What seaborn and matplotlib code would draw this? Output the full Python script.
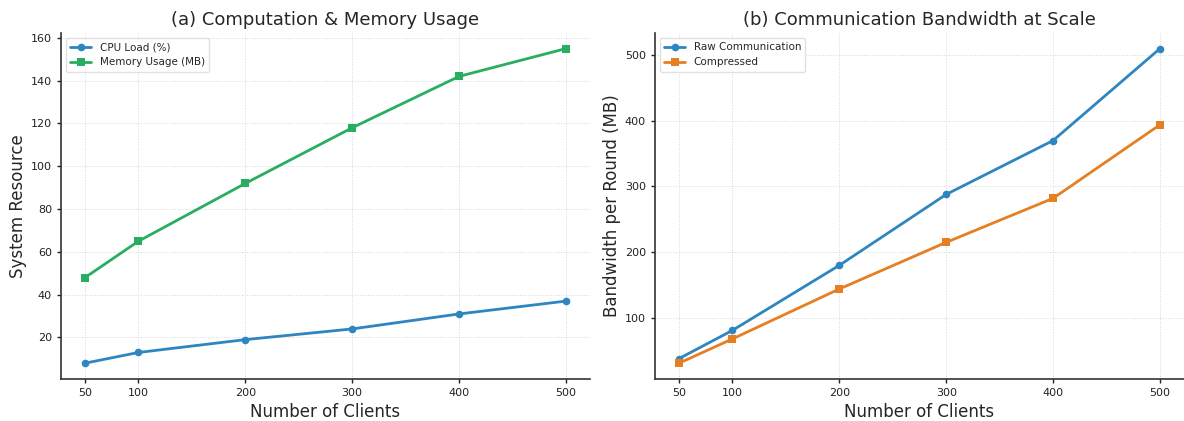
import matplotlib
matplotlib.use("Agg")
import matplotlib.pyplot as plt
import seaborn as sns
import pandas as pd

clients = [50, 100, 200, 300, 400, 500]
cpu_load = [8, 13, 19, 24, 31, 37]
memory_usage = [48, 65, 92, 118, 142, 155]
raw_comm = [38, 81, 180, 288, 370, 510]
compressed = [31, 68, 144, 215, 282, 394]

sns.set_theme(style="ticks")
plt.rcParams['font.family'] = ['DejaVu Sans']

blue = "#2E86C1"
green = "#27AE60"
orange = "#E67E22"

fig, axes = plt.subplots(1, 2, figsize=(11.84, 4.21), dpi=100)

df_a = pd.DataFrame({"clients": clients * 2,
                     "value": cpu_load + memory_usage,
                     "series": ["CPU Load (%)"] * 6 + ["Memory Usage (MB)"] * 6})
df_b = pd.DataFrame({"clients": clients * 2,
                     "value": raw_comm + compressed,
                     "series": ["Raw Communication"] * 6 + ["Compressed"] * 6})

def draw(ax, df, colors, title, ylabel):
    sns.lineplot(data=df, x="clients", y="value", hue="series", style="series",
                 markers=["o", "s"], dashes=False, palette=colors, linewidth=2,
                 markersize=5.5, markeredgewidth=0, ax=ax)
    ax.set_title(title, fontsize=13)
    ax.set_xlabel("Number of Clients", fontsize=12)
    ax.set_ylabel(ylabel, fontsize=12, labelpad=3)
    ax.set_xticks(clients)
    ax.tick_params(labelsize=8, width=1, length=3, colors="#222222")
    ax.grid(True, linestyle=":", linewidth=0.7, color="#cccccc", alpha=0.8)
    for s in ["top", "right"]:
        ax.spines[s].set_visible(False)
    for s in ["left", "bottom"]:
        ax.spines[s].set_linewidth(1.2)
        ax.spines[s].set_color("#333333")
    leg = ax.legend(loc="upper left", fontsize=7.5, frameon=True, framealpha=0.9)
    leg.get_frame().set_edgecolor("#dddddd")

draw(axes[0], df_a, [blue, green], "(a) Computation & Memory Usage", "System Resource")
draw(axes[1], df_b, [blue, orange], "(b) Communication Bandwidth at Scale", "Bandwidth per Round (MB)")

fig.subplots_adjust(left=0.0515, right=1.0, top=0.922, bottom=0.1, wspace=0.123)
fig.savefig("out.png", dpi=100)
